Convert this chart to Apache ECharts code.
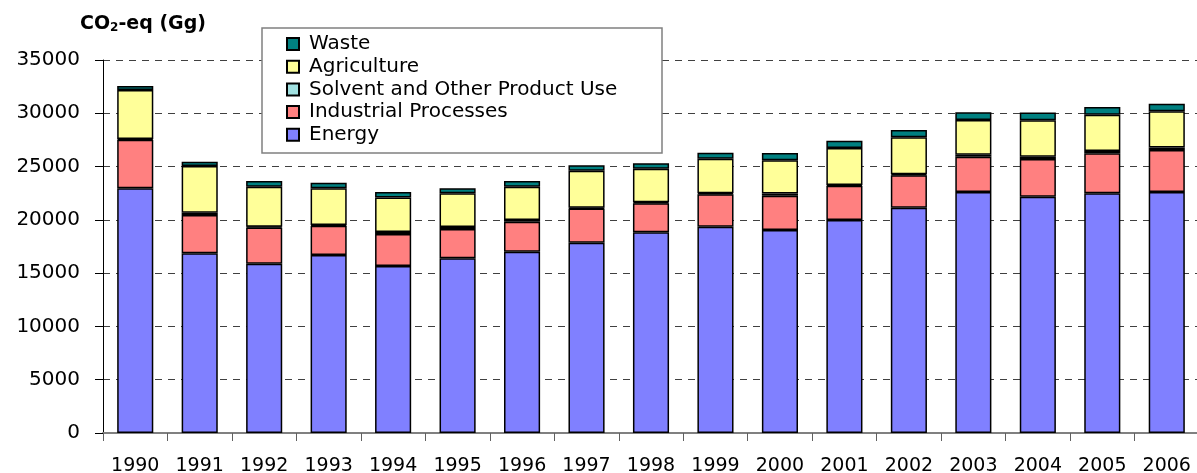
<!DOCTYPE html>
<html>
<head>
<meta charset="utf-8">
<script src="https://cdn.jsdelivr.net/npm/echarts@6/dist/echarts.min.js"></script>
<style>
  html, body { margin: 0; padding: 0; background: #fff; }
  #chart { width: 1197px; height: 473px; }
</style>
</head>
<body>
<div id="chart"></div>
<script>
var years = ['1990', '1991', '1992', '1993', '1994', '1995', '1996', '1997', '1998',
  '1999', '2000', '2001', '2002', '2003', '2004', '2005', '2006'];

// values in Gg CO2-eq
var energy = [22960, 16860, 15890, 16700, 15670, 16390, 17010, 17860, 18830,
  19360, 19050, 19990, 21140, 22610, 22170, 22490, 22610];
var industrial = [4550, 3600, 3390, 2740, 3000, 2750, 2810, 3200, 2740,
  3050, 3220, 3200, 3050, 3310, 3540, 3750, 3940];
var solvent = [80, 200, 80, 80, 200, 200, 160, 80, 80,
  80, 200, 80, 80, 190, 200, 210, 250];
var agriculture = [4600, 4390, 3750, 3440, 3230, 3150, 3120, 3470, 3150,
  3250, 3130, 3470, 3470, 3260, 3440, 3410, 3380];
var waste = [380, 400, 535, 525, 525, 470, 535, 505, 505,
  560, 680, 685, 685, 720, 720, 720, 710];

var yTicks = [0, 5000, 10000, 15000, 20000, 25000, 30000, 35000];

var font = '"DejaVu Sans", "Liberation Sans", Arial, sans-serif';

var dom = document.getElementById('chart');
var myChart = echarts.init(dom, null, { renderer: 'canvas' });

function barSeries(name, data, color) {
  return {
    name: name,
    type: 'bar',
    stack: 'total',
    barWidth: '56%',
    data: data,
    itemStyle: {
      color: color,
      borderColor: '#000',
      borderWidth: 1.5
    }
  };
}

var option = {
  animation: false,
  backgroundColor: '#fff',
  textStyle: { fontFamily: font },
  grid: {
    left: 103,
    top: 60,
    width: 1096,
    height: 373,
    containLabel: false,
    outerBoundsMode: 'none'
  },
  graphic: [
    {
      // legend frame
      type: 'rect',
      z: 3,
      shape: { x: 262, y: 28, width: 400, height: 125 },
      style: { fill: '#fff', stroke: '#808080', lineWidth: 1.5 }
    },
    {
      type: 'text',
      z: 5,
      left: 80,
      top: 15,
      style: {
        text: '{b|CO}{s|2}{b|-eq (Gg)}',
        rich: {
          b: { fontSize: 19, fontWeight: 'bold', fontFamily: font, fill: '#000', lineHeight: 22, verticalAlign: 'bottom' },
          s: { fontSize: 12, fontWeight: 'bold', fontFamily: font, fill: '#000', lineHeight: 22, verticalAlign: 'bottom', padding: [7, 0, 0, 0] }
        }
      }
    }
  ],
  legend: {
    orient: 'vertical',
    left: 286,
    top: 34,
    z: 5,
    icon: 'rect',
    itemWidth: 12,
    itemHeight: 12,
    itemGap: 2.7,
    padding: 0,
    data: ['Waste', 'Agriculture', 'Solvent and Other Product Use', 'Industrial Processes', 'Energy'],
    textStyle: {
      fontSize: 20,
      lineHeight: 18,
      color: '#000',
      fontFamily: font,
      padding: [0, 0, 0, 5]
    }
  },
  xAxis: {
    type: 'category',
    data: years,
    axisLine: { lineStyle: { color: '#808080', width: 2 } },
    axisTick: { show: true, length: 8, alignWithLabel: false, lineStyle: { color: '#606060', width: 1 } },
    axisLabel: { fontSize: 19, color: '#000', margin: 24, fontFamily: font, interval: 0 }
  },
  yAxis: {
    type: 'value',
    min: yTicks[0],
    max: yTicks[yTicks.length - 1],
    interval: yTicks[1] - yTicks[0],
    axisLine: { show: true, lineStyle: { color: '#000', width: 1 } },
    axisTick: { show: true, length: 8, lineStyle: { color: '#000', width: 1 } },
    axisLabel: {
      fontSize: 20, color: '#000', margin: 23, fontFamily: font,
      formatter: function (v) { return String(v); }
    },
    splitLine: {
      show: true,
      lineStyle: { color: '#404040', width: 1, type: [7, 6] }
    }
  },
  series: [
    barSeries('Energy', energy, '#8080FF'),
    barSeries('Industrial Processes', industrial, '#FF8080'),
    barSeries('Solvent and Other Product Use', solvent, '#A0E0E0'),
    barSeries('Agriculture', agriculture, '#FFFF99'),
    barSeries('Waste', waste, '#008080')
  ]
};

myChart.setOption(option);
window.addEventListener('resize', myChart.resize);
</script>
</body>
</html>
